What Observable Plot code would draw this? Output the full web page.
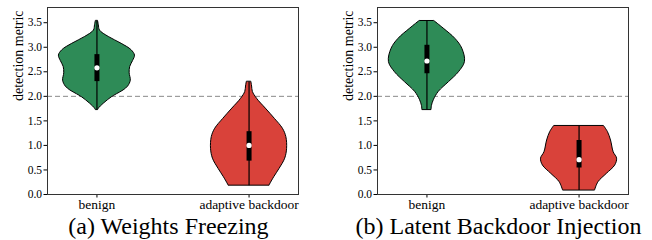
<!DOCTYPE html>
<html>
<head>
<meta charset="utf-8">
<script src="https://cdn.jsdelivr.net/npm/d3@7"></script>
<script src="https://cdn.jsdelivr.net/npm/@observablehq/plot@0.6"></script>
<style>
  html, body { margin: 0; padding: 0; background: #fff; width: 652px; height: 240px; position: relative; }
  svg text { font-family: "Liberation Serif", "Times New Roman", serif; }
  .cap { position: absolute; top: 214px; transform: translateX(-50%); white-space: nowrap;
         font-family: "Liberation Serif", "Times New Roman", serif; font-size: 24px; line-height: 24px; color: #000; }
</style>
</head>
<body>
<script>
// Categories, panels and tick labels
const categories = ["benign", "adaptive backdoor"];
const panelKeys = ["a", "b"];
const yTicks = [0.0, 0.5, 1.0, 1.5, 2.0, 2.5, 3.0, 3.5];
const threshold = 2.0;
const yLabel = "detection metric";
const captions = ["(a) Weights Freezing", "(b) Latent Backdoor Injection"];

// Panel (a) violin profiles: values and relative density widths
const aBenignValues = [3.53, 3.45, 3.34, 3.21, 3.07, 2.94, 2.83, 2.72, 2.60, 2.47, 2.32, 2.20, 2.12, 2.04, 1.98, 1.85, 1.75, 1.72];
const aBenignWidths = [0.03, 0.05, 0.08, 0.31, 0.65, 0.91, 1.00, 0.95, 0.875, 0.86, 0.89, 0.82, 0.70, 0.52, 0.39, 0.18, 0.05, 0.03];
const aAdaptiveValues = [2.29, 2.20, 2.09, 1.95, 1.75, 1.54, 1.34, 1.17, 0.93, 0.73, 0.52, 0.35, 0.20, 0.18];
const aAdaptiveWidths = [0.06, 0.08, 0.10, 0.21, 0.44, 0.68, 0.89, 0.98, 1.00, 0.95, 0.80, 0.66, 0.55, 0.54];
// Panel (a) summary stats: [min, q1, median, q3, max]
const aBenignStats = [1.72, 2.30, 2.58, 2.85, 3.53];
const aAdaptiveStats = [0.18, 0.68, 1.00, 1.28, 2.29];

// Panel (b) violin profiles
const bBenignValues = [3.53, 3.38, 3.17, 2.97, 2.70, 2.49, 2.29, 2.09, 1.92, 1.80, 1.72];
const bBenignWidths = [0.20, 0.44, 0.75, 0.93, 1.00, 0.84, 0.58, 0.31, 0.18, 0.13, 0.12];
const bAdaptiveValues = [1.39, 1.27, 1.10, 0.86, 0.73, 0.59, 0.42, 0.25, 0.08];
const bAdaptiveWidths = [0.66, 0.76, 0.84, 0.91, 1.00, 0.95, 0.73, 0.51, 0.42];
const bBenignStats = [1.72, 2.46, 2.72, 3.04, 3.53];
const bAdaptiveStats = [0.08, 0.54, 0.71, 1.10, 1.39];

const colors = ["#2e8b57", "#d9423a"];
const serif = "Liberation Serif";

function violinRows(values, widths, pos, panel) {
  return values.map((v, i) => ({panel, v, x1: pos - 0.25 * widths[i], x2: pos + 0.25 * widths[i]}));
}
function statRow(s, pos, panel) {
  return {panel, pos, min: s[0], q1: s[1], med: s[2], q3: s[3], max: s[4]};
}

const violins = [
  {rows: violinRows(aBenignValues, aBenignWidths, 1, "a"), color: colors[0]},
  {rows: violinRows(aAdaptiveValues, aAdaptiveWidths, 2, "a"), color: colors[1]},
  {rows: violinRows(bBenignValues, bBenignWidths, 1, "b"), color: colors[0]},
  {rows: violinRows(bAdaptiveValues, bAdaptiveWidths, 2, "b"), color: colors[1]}
];
const stats = [
  statRow(aBenignStats, 1, "a"), statRow(aAdaptiveStats, 2, "a"),
  statRow(bBenignStats, 1, "b"), statRow(bAdaptiveStats, 2, "b")
];

const ML = 47, MR = 24, W = 652;
const svg = Plot.plot({
  width: W, height: 214,
  marginLeft: ML, marginRight: MR, marginTop: 7, marginBottom: 20,
  fx: {domain: panelKeys, paddingInner: 0.2394, paddingOuter: 0, axis: null, label: null},
  x: {domain: [0.675, 2.325]},
  y: {domain: [0, 3.81]},
  style: {fontFamily: serif, fontSize: "11px"},
  marks: [
    Plot.ruleY([threshold], {stroke: "#8a8a8a", strokeWidth: 1, strokeDasharray: "5,3"}),
    ...violins.map(vl => Plot.areaX(vl.rows, {fx: "panel", y: "v", x1: "x1", x2: "x2", fill: vl.color, stroke: "#000", strokeWidth: 1, curve: "catmull-rom"})),
    Plot.ruleX(stats, {fx: "panel", x: "pos", y1: "min", y2: "max", stroke: "#000", strokeWidth: 1.2}),
    Plot.ruleX(stats, {fx: "panel", x: "pos", y1: "q1", y2: "q3", stroke: "#000", strokeWidth: 5}),
    Plot.dot(stats, {fx: "panel", x: "pos", y: "med", r: 2.6, fill: "#fff", stroke: "none"}),
    Plot.axisX({ticks: [1, 2], tickFormat: d => categories[d - 1], tickSize: 3.5, tickPadding: 1.5, label: null, facetAnchor: null, fontSize: 13.5, fontFamily: serif}),
    Plot.axisY({ticks: yTicks, tickFormat: d3.format(".1f"), tickSize: 3.5, tickPadding: 2, label: null, facetAnchor: null, fontSize: 11.5, fontFamily: serif}),
    Plot.text([yLabel], {text: d => d, frameAnchor: "left", dx: -29, rotate: -90, fontSize: 14, fontFamily: serif, fill: "#000"}),
    Plot.frame({stroke: "#333", strokeWidth: 1})
  ]
});
svg.style.position = "absolute";
svg.style.left = "0px";
svg.style.top = "0px";
document.body.appendChild(svg);

// Captions under each panel, centred a little left of each frame centre
const inner = W - ML - MR;
const step = inner / (2 - 0.2394);
const band = step * (1 - 0.2394);
captions.forEach((c, k) => {
  const cap = document.createElement("div");
  cap.className = "cap";
  const frameLeft = ML + k * step;
  cap.style.left = (frameLeft - 4 + band / 2) + "px";
  cap.textContent = c;
  document.body.appendChild(cap);
});
</script>
</body>
</html>
